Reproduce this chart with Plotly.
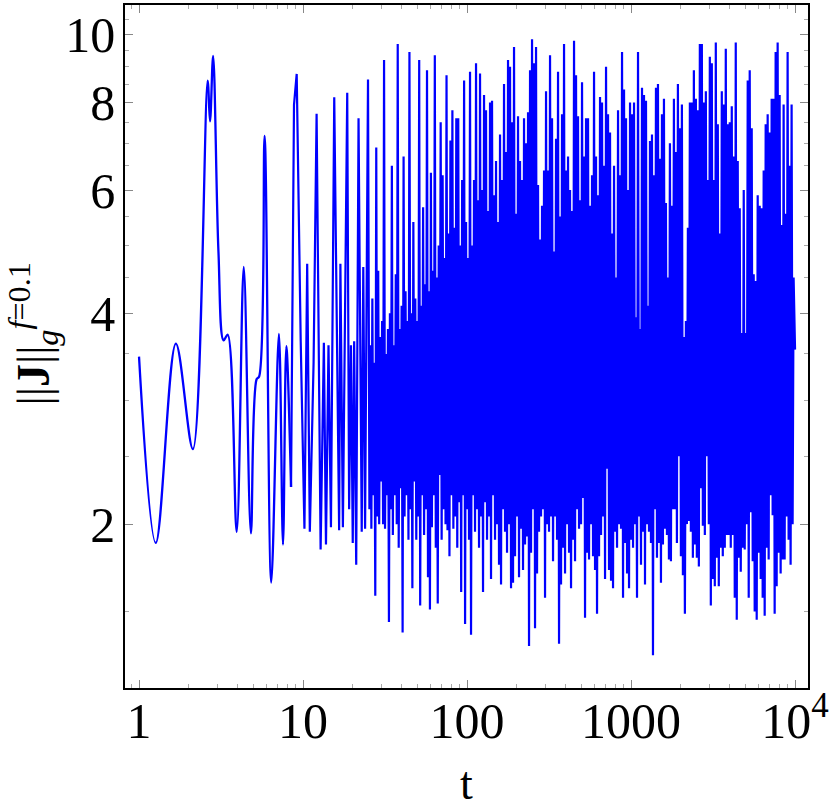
import numpy as np
import plotly.graph_objects as go

# smooth start of the signal (t < 8.5): turning points
t_early = [1.0, 1.265, 1.677, 2.13, 2.62, 2.71, 2.83, 3.05, 3.28, 3.47,
           3.94, 4.35, 4.81, 5.21, 5.4, 5.83, 6.4, 7.13, 7.55, 7.91, 8.45]
y_early = [3.47, 1.88, 3.62, 2.56, 8.6, 7.52, 9.33, 4.9, 3.66, 3.73,
           1.95, 4.66, 1.94, 3.22, 3.25, 7.17, 1.65, 3.74, 1.87, 3.59, 2.26]

# isolated spikes, 8.5 < t < 25
t_spikes = [8.45, 8.81, 9.15, 9.68, 10.2, 10.6, 11.0, 11.6, 12.1, 12.8,
            13.4, 13.8, 14.3, 14.8, 15.5, 16.1, 16.6, 16.9, 17.5, 18.6,
            19.1, 19.6, 20.1, 20.5, 21.1, 21.8, 22.8, 23.3, 23.9, 24.9]
y_spikes = [2.26, 7.94, 8.79, 3.65, 1.97, 4.71, 1.95, 3.41, 7.71, 1.84,
            3.63, 1.87, 3.6, 1.98, 8.14, 3.5, 1.96, 4.71, 1.98, 8.26,
            2.1, 3.6, 1.88, 3.65, 1.75, 7.6, 1.95, 4.66, 1.97, 8.63]

# dense oscillation, 25 < t < 100: successive maxima / minima
hi_25_100 = [3.6, 4.2, 3.4, 6.9, 4.6, 3.7, 3.9, 9.2, 3.5, 3.8,
             4.0, 6.5, 3.6, 4.55, 9.7, 3.8, 4.1, 6.7, 4.3, 3.9,
             9.45, 4.0, 5.4, 4.2, 3.9, 9.2, 4.1, 5.67, 4.4, 8.9,
             4.3, 6.35, 4.6, 9.35, 4.5, 5.0, 7.5, 6.3, 4.8, 8.75,
             5.2, 7.06, 7.8, 5.3, 7.6, 7.6, 5.0, 6.2, 8.6, 5.4]
lo_25_100 = [2.1, 1.97, 2.2, 1.58, 2.05, 2.0, 2.3, 2.0, 1.97, 2.2,
             1.45, 2.1, 1.93, 2.2, 2.0, 1.85, 2.25, 1.40, 2.05, 2.2,
             1.9, 2.1, 1.62, 2.3, 1.9, 2.05, 1.53, 2.2, 1.93, 2.1,
             1.68, 1.51, 1.98, 2.2, 1.85, 1.54, 2.35, 1.9, 2.1, 2.0,
             1.96, 1.8, 2.2, 1.97, 2.05, 1.85, 2.15, 1.6, 2.2, 1.44]

# 100 < t < 1000
hi_100_1000 = [4.8, 8.85, 5.0, 6.2, 9.1, 5.8, 8.8, 6.0, 8.2, 7.8,
               5.6, 8.0, 8.05, 5.9, 6.6, 5.4, 7.2, 6.2, 8.5, 6.8,
               9.2, 9.0, 7.5, 9.6, 5.55, 7.65, 6.6, 6.2, 7.6, 7.0,
               7.75, 8.9, 9.85, 9.1, 9.6, 6.1, 5.1, 5.7, 6.4, 8.3,
               6.4, 9.35, 7.6, 4.9, 7.1, 8.85, 5.5, 7.7, 9.7, 6.4,
               6.7, 6.0, 5.6, 9.8, 8.75, 7.65, 5.8, 8.55, 6.7, 7.6,
               7.6, 5.7, 6.3, 8.85, 6.7, 5.9, 8.15, 8.0, 6.5, 9.0,
               7.7, 7.25, 5.2, 6.5, 4.5, 7.8, 6.3, 9.45, 8.35, 7.6,
               6.0, 8.0]
lo_100_1000 = [2.1, 1.9, 1.39, 2.2, 1.95, 2.1, 1.85, 2.05, 1.6, 2.15,
               1.9, 2.05, 1.67, 2.2, 1.9, 2.0, 1.75, 1.64, 2.1, 1.95,
               1.82, 2.0, 1.62, 1.65, 1.8, 2.05, 1.68, 1.97, 1.72, 1.87,
               1.92, 1.34, 1.82, 2.1, 1.42, 1.7, 1.95, 2.05, 2.1, 1.57,
               2.0, 1.95, 2.05, 1.77, 2.05, 1.9, 1.35, 1.64, 1.85, 1.7,
               2.0, 1.82, 1.62, 1.9, 1.77, 2.1, 1.97, 2.0, 2.18, 1.47,
               1.82, 1.78, 2.0, 1.8, 1.72, 1.49, 1.8, 1.93, 2.05, 1.67,
               2.4, 1.72, 1.66, 1.62, 1.95, 1.85, 2.0, 1.97, 1.57, 1.88,
               1.7, 1.62]

# 1000 < t < 10^4
hi_1000_10000 = [7.7, 8.0, 3.95, 9.45, 3.8, 8.4, 8.2, 8.05, 4.1, 7.05,
                 7.2, 6.3, 8.4, 8.5, 6.65, 7.7, 8.1, 5.75, 4.5, 7.0,
                 5.7, 8.1, 6.8, 8.5, 7.35, 7.95, 3.7, 3.9, 5.3, 8.0,
                 8.0, 8.9, 8.1, 7.8, 9.7, 9.7, 8.0, 8.3, 6.2, 9.3,
                 9.1, 6.2, 9.75, 7.45, 5.2, 8.3, 7.95, 9.55, 7.45, 7.5,
                 7.9, 6.7, 9.75, 6.6, 5.65, 3.75, 6.0, 3.75, 8.6, 8.9,
                 7.35, 4.55, 4.45, 5.9, 5.7, 5.65, 6.4, 7.45, 7.7, 7.25,
                 8.1, 8.1, 9.45, 9.75, 8.2, 5.35, 7.95, 5.55, 9.45, 6.5,
                 7.95, 4.5]
lo_1000_10000 = [1.9, 1.85, 2.0, 1.57, 2.05, 1.75, 1.95, 1.64, 2.0, 1.95,
                 1.88, 1.30, 2.1, 1.79, 1.88, 1.65, 1.87, 1.97, 1.93, 1.78,
                 1.77, 2.1, 2.1, 1.88, 2.5, 1.8, 1.69, 1.49, 2.0, 2.02,
                 1.95, 1.79, 1.87, 1.79, 1.74, 2.25, 1.99, 1.93, 2.5, 2.0,
                 1.53, 1.67, 1.63, 1.79, 1.63, 1.85, 1.80, 1.85, 1.93, 1.93,
                 1.85, 1.93, 1.57, 1.46, 1.79, 1.71, 1.85, 1.84, 2.0, 1.57,
                 2.08, 1.77, 1.5, 1.46, 1.82, 1.67, 1.57, 1.48, 1.85, 1.78,
                 2.2, 2.06, 1.49, 1.63, 1.82, 1.7, 1.78, 1.78, 2.05, 1.9,
                 1.75, 2.0]
t_last, y_last = 1.0e4, 3.55


def dense(lo, hi, t0, t1, endpoint=False):
    # minima and maxima alternate, sampled evenly in log t
    y = np.empty(2 * len(lo))
    y[0::2] = lo
    y[1::2] = hi
    t = np.geomspace(t0, t1, len(y), endpoint=endpoint)
    return t, y


t1, y1 = dense(lo_25_100, hi_25_100, 25.4, 100)
t2, y2 = dense(lo_100_1000, hi_100_1000, 100, 1000)
t3, y3 = dense(lo_1000_10000, hi_1000_10000, 1000, 9800, endpoint=True)

t_lin = np.concatenate([t_spikes, t1, t2, t3, [t_last]])
y_lin = np.concatenate([y_spikes, y1, y2, y3, [y_last]])

blue = "rgb(0,0,255)"
fig = go.Figure()
fig.add_trace(go.Scatter(x=t_early, y=y_early, mode="lines",
                         line=dict(color=blue, width=2.3, shape="spline", smoothing=1)))
fig.add_trace(go.Scatter(x=t_lin, y=y_lin, mode="lines",
                         line=dict(color=blue, width=2.2)))

serif = "Liberation Serif"
x_minor = [0.9] + [m * 10 ** d for d in range(4) for m in range(2, 10)]
y_minor = [1.5, 2.5, 3, 3.5, 4.5, 5, 5.5, 6.5, 7, 7.5, 8.5, 9, 9.5, 10.5]

fig.update_layout(
    width=830, height=810,
    margin=dict(l=125, r=22, t=5, b=122),
    plot_bgcolor="white", paper_bgcolor="white",
    showlegend=False,
    font=dict(family=serif, size=50, color="black"),
    xaxis=dict(
        type="log", range=[-0.0855, 4.079], automargin=False,
        tickvals=[1, 10, 100, 1000, 10000],
        ticktext=["1", "10", "100", "1000", "10<sup>4</sup>"],
        ticks="inside", ticklen=8, tickcolor="#888", tickwidth=1,
        ticklabelstandoff=-12,
        minor=dict(tickvals=x_minor, ticks="inside", ticklen=4, tickcolor="#aaa"),
        showgrid=False, zeroline=False,
        showline=True, linecolor="black", linewidth=1.5, mirror="allticks",
    ),
    yaxis=dict(
        type="log", range=[0.067, 1.0424], automargin=False,
        tickvals=[2, 4, 6, 8, 10],
        ticktext=["2", "4", "6", "8", "10"],
        ticks="inside", ticklen=8, tickcolor="#888", tickwidth=1,
        ticklabelstandoff=-2,
        minor=dict(tickvals=y_minor, ticks="inside", ticklen=4, tickcolor="#aaa"),
        showgrid=False, zeroline=False,
        showline=True, linecolor="black", linewidth=1.5, mirror="allticks",
    ),
    annotations=[
        dict(text="t", xref="paper", yref="paper", x=0.5, y=0,
             yanchor="top", yshift=-68, showarrow=False, font=dict(size=46)),
        dict(text="||<b>J</b>||<sub><i>g</i></sub><sup><i>f</i>=0.1</sup>",
             xref="paper", yref="paper", x=0, y=0.5, xanchor="center",
             yanchor="middle", xshift=-92, yshift=12, textangle=-90,
             showarrow=False, font=dict(size=46)),
    ],
)

fig.write_html("out.html", config={"displayModeBar": False},
               post_script="document.body.style.margin='0';")
